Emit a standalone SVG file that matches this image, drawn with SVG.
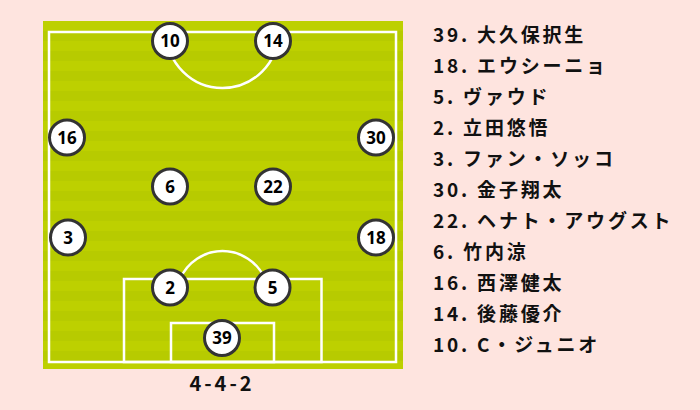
<svg xmlns="http://www.w3.org/2000/svg" width="700" height="410" viewBox="0 0 700 410">
<defs>
<pattern id="stripes" x="0" y="21" width="10" height="20" patternUnits="userSpaceOnUse">
<rect x="0" y="0" width="10" height="10" fill="#bdd000"/>
<rect x="0" y="10" width="10" height="10" fill="#b7cb00"/>
</pattern>
</defs>
<style>
.line{fill:none;stroke:#ffffff;stroke-width:2.5}
.pl circle{fill:#ffffff;stroke:#333333;stroke-width:3}
.pl text{font-family:"Noto Sans","Noto Sans CJK JP",sans-serif;font-size:17px;font-weight:bold;fill:#000000;text-anchor:middle}
.names text{font-family:"Noto Sans CJK JP","Noto Sans",sans-serif;font-size:19px;font-weight:bold;fill:#111111;letter-spacing:2.8px}
.formation{font-family:"Noto Sans CJK JP","Noto Sans",sans-serif;font-size:20px;font-weight:bold;fill:#111111;letter-spacing:3px;text-anchor:middle}
</style>
<rect x="0" y="0" width="700" height="410" fill="#fee4df"/>
<g id="pitch">
<rect x="43" y="21" width="360" height="348" fill="url(#stripes)"/>
<rect class="line" x="49" y="32" width="347" height="330"/>
<path class="line" d="M166.5,32 A56,56 0 0 0 278.5,32"/>
<rect class="line" x="124" y="279" width="197.5" height="83"/>
<rect class="line" x="171" y="323" width="103" height="39"/>
<path class="line" d="M180,279 A46.3,46.3 0 0 1 265,279"/>
</g>
<g id="connectors"></g>
<g id="p10" class="pl"><circle cx="170" cy="41" r="17.5"/><text x="170" y="47">10</text></g>
<g id="p14" class="pl"><circle cx="273" cy="41" r="17.5"/><text x="273" y="47">14</text></g>
<g id="p16" class="pl"><circle cx="67" cy="137.5" r="17.5"/><text x="67" y="143.5">16</text></g>
<g id="p30" class="pl"><circle cx="376" cy="137.5" r="17.5"/><text x="376" y="143.5">30</text></g>
<g id="p6" class="pl"><circle cx="170" cy="186.5" r="17.5"/><text x="170" y="192.5">6</text></g>
<g id="p22" class="pl"><circle cx="273" cy="186.5" r="17.5"/><text x="273" y="192.5">22</text></g>
<g id="p3" class="pl"><circle cx="68" cy="237.5" r="17.5"/><text x="68" y="243.5">3</text></g>
<g id="p18" class="pl"><circle cx="376" cy="237.5" r="17.5"/><text x="376" y="243.5">18</text></g>
<g id="p2" class="pl"><circle cx="170" cy="287.5" r="17.5"/><text x="170" y="293.5">2</text></g>
<g id="p5" class="pl"><circle cx="272.5" cy="287.5" r="17.5"/><text x="272.5" y="293.5">5</text></g>
<g id="p39" class="pl"><circle cx="222" cy="338" r="17.5"/><text x="222" y="344">39</text></g>
<g id="names" class="names">
<text x="433" y="42">39. 大久保択生</text>
<text x="433" y="73">18. エウシーニョ</text>
<text x="433" y="104">5. ヴァウド</text>
<text x="433" y="135">2. 立田悠悟</text>
<text x="433" y="166">3. ファン・ソッコ</text>
<text x="433" y="197">30. 金子翔太</text>
<text x="433" y="228">22. ヘナト・アウグスト</text>
<text x="433" y="259">6. 竹内涼</text>
<text x="433" y="290">16. 西澤健太</text>
<text x="433" y="321">14. 後藤優介</text>
<text x="433" y="352">10. C・ジュニオ</text>
</g>
<text id="formation" class="formation" x="222" y="391">4-4-2</text>
</svg>
